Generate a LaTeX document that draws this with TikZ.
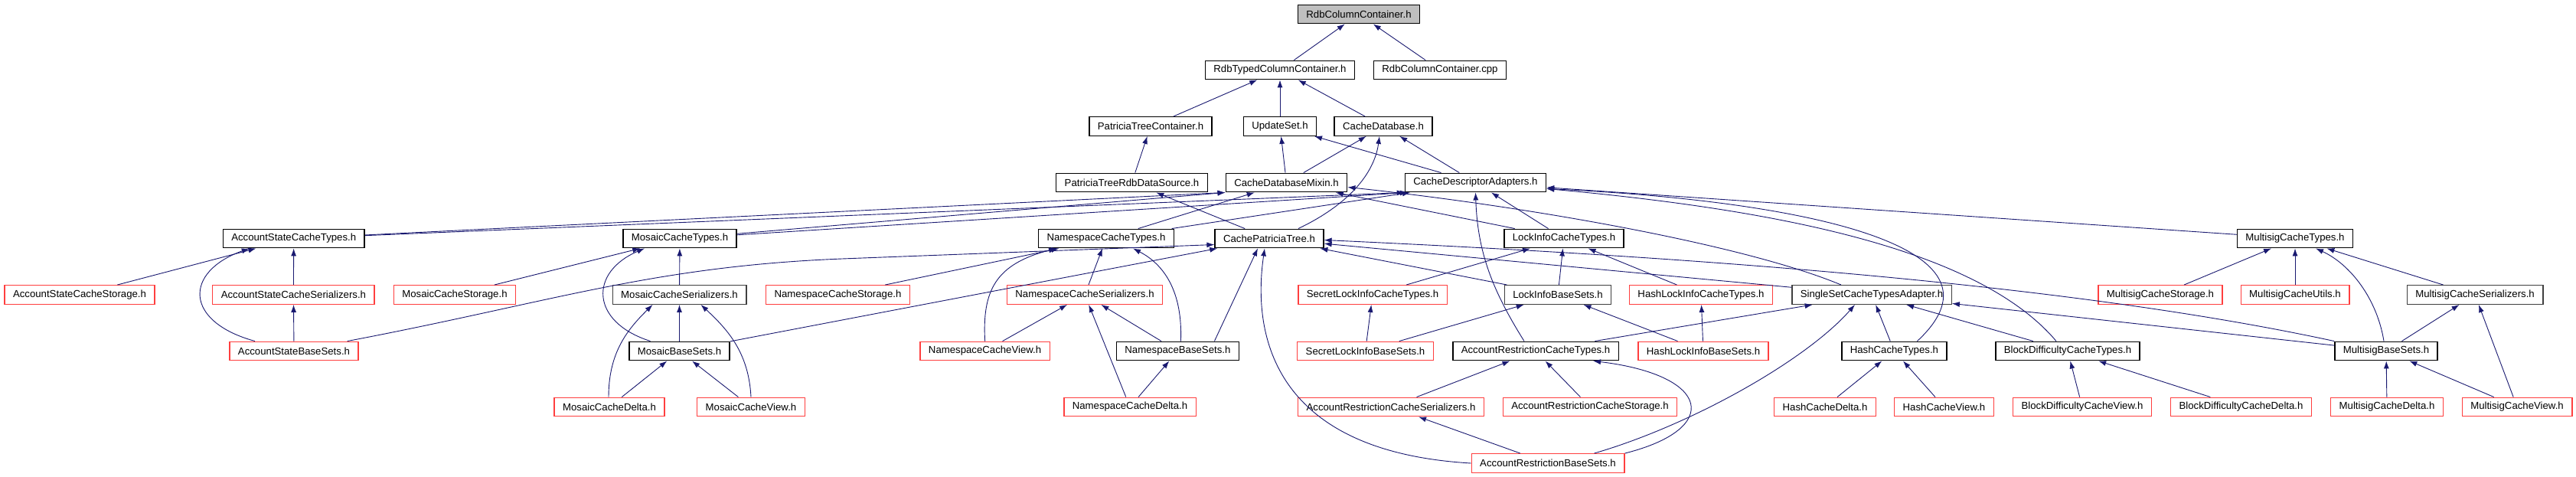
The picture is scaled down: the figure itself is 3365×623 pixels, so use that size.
\documentclass[tikz,border=0pt]{standalone}
\usepackage{fontspec}
\setmainfont{Liberation Sans}
\usetikzlibrary{arrows.meta}

\definecolor{linkblue}{HTML}{191970}
\definecolor{boxred}{HTML}{FF3F3F}
\definecolor{rootgray}{HTML}{BFBFBF}

\begin{document}
\begin{tikzpicture}[x=1pt,y=-1pt,
  hdr/.style={draw=black,line width=1.4pt,rectangle,inner xsep=11pt,inner ysep=0pt,
    minimum height=24.5pt,font=\fontsize{13.2}{15}\selectfont},
  redhdr/.style={hdr,draw=boxred},
  grayhdr/.style={hdr,draw=black!75},
  incl/.style={linkblue,line width=0.9pt,-{Latex[length=10pt,width=7pt]}}]
\useasboundingbox (0,0) rectangle (3365,623);

% Rows 1--4
\node[hdr,fill=rootgray] (rcc) at (1775,18.5) {RdbColumnContainer.h};
\node[hdr] (rtcc) at (1672,91.5) {RdbTypedColumnContainer.h};
\node[hdr] (rccpp) at (1881,91.5) {RdbColumnContainer.cpp};
\node[hdr] (ptc) at (1503,165) {PatriciaTreeContainer.h};
\node[hdr] (us) at (1672,165) {UpdateSet.h};
\node[hdr] (cdb) at (1807,165) {CacheDatabase.h};
\node[hdr] (ptrds) at (1478.5,238.5) {PatriciaTreeRdbDataSource.h};
\node[hdr] (cdbm) at (1680.5,238.5) {CacheDatabaseMixin.h};
\node[hdr] (cda) at (1927.5,238.5) {CacheDescriptorAdapters.h};

% Row 5
\node[hdr] (asct) at (383.7,311.5) {AccountStateCacheTypes.h};
\node[hdr] (mct) at (888,311.5) {MosaicCacheTypes.h};
\node[hdr] (nct) at (1445,311.5) {NamespaceCacheTypes.h};
\node[hdr] (cpt) at (1658,311.5) {CachePatriciaTree.h};
\node[hdr] (lict) at (2043,311.5) {LockInfoCacheTypes.h};
\node[hdr] (msct) at (2998,311.5) {MultisigCacheTypes.h};

% Row 6
\node[redhdr] (ascs) at (104,385) {AccountStateCacheStorage.h};
\node[redhdr] (ascser) at (383.4,385) {AccountStateCacheSerializers.h};
\node[redhdr] (mcs) at (594,385) {MosaicCacheStorage.h};
\node[grayhdr] (mcser) at (887.5,385) {MosaicCacheSerializers.h};
\node[redhdr] (ncs) at (1094.5,385) {NamespaceCacheStorage.h};
\node[redhdr] (ncser) at (1417,385) {NamespaceCacheSerializers.h};
\node[redhdr] (slict) at (1793,385) {SecretLockInfoCacheTypes.h};
\node[grayhdr] (libs) at (2035,385) {LockInfoBaseSets.h};
\node[redhdr] (hlict) at (2222,385) {HashLockInfoCacheTypes.h};
\node[grayhdr] (sscta) at (2445,385) {SingleSetCacheTypesAdapter.h};
\node[redhdr] (mscs) at (2822,385) {MultisigCacheStorage.h};
\node[redhdr] (mscu) at (2998,385) {MultisigCacheUtils.h};
\node[grayhdr] (mscser) at (3233,385) {MultisigCacheSerializers.h};

% Row 7
\node[redhdr] (asbs) at (384,458.5) {AccountStateBaseSets.h};
\node[hdr] (mbs) at (887.5,458.5) {MosaicBaseSets.h};
\node[redhdr] (ncv) at (1286.6,458.5) {NamespaceCacheView.h};
\node[hdr] (nbs) at (1538.4,458.5) {NamespaceBaseSets.h};
\node[redhdr] (slibs) at (1783.5,458.5) {SecretLockInfoBaseSets.h};
\node[hdr] (arct) at (2006,458.5) {AccountRestrictionCacheTypes.h};
\node[redhdr] (hlibs) at (2225,458.5) {HashLockInfoBaseSets.h};
\node[hdr] (hct) at (2474.4,458.5) {HashCacheTypes.h};
\node[hdr] (bdct) at (2701,458.5) {BlockDifficultyCacheTypes.h};
\node[hdr] (msbs) at (3117,458.5) {MultisigBaseSets.h};

% Rows 8--9
\node[redhdr] (mcd) at (796,531.5) {MosaicCacheDelta.h};
\node[redhdr] (mcv) at (981,531.5) {MosaicCacheView.h};
\node[redhdr] (ncd) at (1476,531.5) {NamespaceCacheDelta.h};
\node[redhdr] (arcser) at (1817,531.5) {AccountRestrictionCacheSerializers.h};
\node[redhdr] (arcs) at (2077,531.5) {AccountRestrictionCacheStorage.h};
\node[redhdr] (hcd) at (2384,531.5) {HashCacheDelta.h};
\node[redhdr] (hcv) at (2539.5,531.5) {HashCacheView.h};
\node[redhdr] (bdcv) at (2720,531.5) {BlockDifficultyCacheView.h};
\node[redhdr] (bdcd) at (2927.5,531.5) {BlockDifficultyCacheDelta.h};
\node[redhdr] (mscd) at (3118,531.5) {MultisigCacheDelta.h};
\node[redhdr] (mscv) at (3288,531.5) {MultisigCacheView.h};
\node[redhdr] (arbs) at (2022,605) {AccountRestrictionBaseSets.h};

% Upper part
\draw[incl] (rtcc) -- (rcc);
\draw[incl] (rccpp) -- (rcc);
\draw[incl] (ptc) -- (rtcc);
\draw[incl] (us) -- (rtcc);
\draw[incl] (cdb) -- (rtcc);
\draw[incl] (ptrds) -- (ptc);
\draw[incl] (cdbm) -- (us);
\draw[incl] (cdbm) -- (cdb);
\draw[incl] (cda) -- (us);
\draw[incl] (cda) -- (cdb);
\draw[incl] ([xshift=38pt]cpt.north) .. controls (1760,268) and (1795,228) .. ([xshift=-5pt]cdb.south);
\draw[incl] (cpt) -- (ptrds);

% Into the mixin and the adapters
\draw[incl] (asct) -- (cdbm.south west);
\draw[incl] (asct) -- (cda.south west);
\draw[incl] (mct) -- (cdbm.south west);
\draw[incl] (mct) -- ([xshift=4pt]cda.south west);
\draw[incl] (nct) -- (cdbm);
\draw[incl] (nct) -- (cda);
\draw[incl] (lict) -- (cdbm);
\draw[incl] (lict) -- (cda);
\draw[incl] ([xshift=-40pt]sscta.north) .. controls (2280,320) and (2000,270) .. ([yshift=-6pt]cdbm.east);
\draw[incl] (msct) -- (cda);
\draw[incl] ([xshift=30pt]hct.north) .. controls (2640,320) and (2350,262) .. ([yshift=-8pt]cda.east);
\draw[incl] ([xshift=-15pt]bdct.north) .. controls (2580,320) and (2300,272) .. ([yshift=-8pt]cda.east);
\draw[incl] ([xshift=-15pt]arct.north) .. controls (1950,380) and (1930,330) .. (cda.south);

% Into the patricia tree
\draw[incl] ([xshift=-15pt]asbs.north east) .. controls (720,395) and (850,348) .. (1100,338) -- ([yshift=-8pt]cpt.west);
\draw[incl] (mbs) -- (cpt);
\draw[incl] ([xshift=48pt]nbs.north) -- ([xshift=-15pt]cpt.south);
\draw[incl] (arbs.west) .. controls (1665,590) and (1635,440) .. ([xshift=-6pt]cpt.south);
\draw[incl] (libs) -- (cpt);
\draw[incl] (sscta) -- (cpt);
\draw[incl] (msbs.north west) .. controls (2700,370) and (2200,335) .. ([yshift=-2pt]cpt.east);

% Account state
\draw[incl] (ascs) -- (asct);
\draw[incl] (ascser) -- (asct);
\draw[incl] ([xshift=-51pt]asbs.north) .. controls (240,420) and (240,355) .. ([xshift=-58pt]asct.south);
\draw[incl] (asbs) -- (ascser);

% Mosaic
\draw[incl] (mcs) -- (mct);
\draw[incl] (mcser) -- (mct);
\draw[incl] ([xshift=-38pt]mbs.north) .. controls (770,420) and (770,355) .. ([xshift=-46pt]mct.south);
\draw[incl] (mbs) -- (mcser);
\draw[incl] (mcd) -- (mbs);
\draw[incl] (mcv) -- (mbs);
\draw[incl] ([xshift=-1pt]mcd.north) .. controls (795,460) and (820,430) .. ([xshift=-35pt]mcser.south);
\draw[incl] (mcv.north) .. controls (978,460) and (950,430) .. ([xshift=28pt]mcser.south);

% Namespace
\draw[incl] (ncs) -- (nct);
\draw[incl] (ncv.north) .. controls (1283,380) and (1300,345) .. ([xshift=-65pt]nct.south);
\draw[incl] (ncser) -- (nct);
\draw[incl] ([xshift=4pt]nbs.north) .. controls (1545,380) and (1520,345) .. ([xshift=35pt]nct.south);
\draw[incl] (ncv) -- (ncser);
\draw[incl] (nbs) -- (ncser);
\draw[incl] (ncd) -- (ncser);
\draw[incl] (ncd) -- (nbs);

% Lock info
\draw[incl] (slict) -- (lict);
\draw[incl] (libs) -- (lict);
\draw[incl] (hlict) -- (lict);
\draw[incl] (slibs) -- (libs);
\draw[incl] (hlibs) -- (libs);
\draw[incl] (slibs) -- (slict);
\draw[incl] (hlibs) -- (hlict);

% Account restriction
\draw[incl] (arct) -- (sscta);
\draw[incl] (arcser) -- (arct);
\draw[incl] (arcs) -- (arct);
\draw[incl] (arbs) -- (arcser);
\draw[incl] ([xshift=-40pt]arbs.north east) .. controls (2210,555) and (2360,470) .. ([xshift=-22pt]sscta.south);
\draw[incl] (arbs.north east) .. controls (2250,560) and (2235,490) .. ([xshift=75pt]arct.south);

% Hash, block difficulty
\draw[incl] (hct) -- (sscta);
\draw[incl] (bdct) -- (sscta);
\draw[incl] (hcd) -- (hct);
\draw[incl] (hcv) -- (hct);
\draw[incl] (bdcv) -- (bdct);
\draw[incl] (bdcd) -- (bdct);

% Multisig
\draw[incl] (msbs) -- (sscta);
\draw[incl] ([xshift=-3pt]msbs.north) .. controls (3105,390) and (3070,345) .. ([xshift=27pt]msct.south);
\draw[incl] (msbs) -- (mscser);
\draw[incl] (mscd) -- (msbs);
\draw[incl] (mscv) -- (msbs);
\draw[incl] (mscv) -- (mscser);
\draw[incl] (mscs) -- (msct);
\draw[incl] (mscu) -- (msct);
\draw[incl] (mscser) -- (msct);
\end{tikzpicture}
\end{document}
